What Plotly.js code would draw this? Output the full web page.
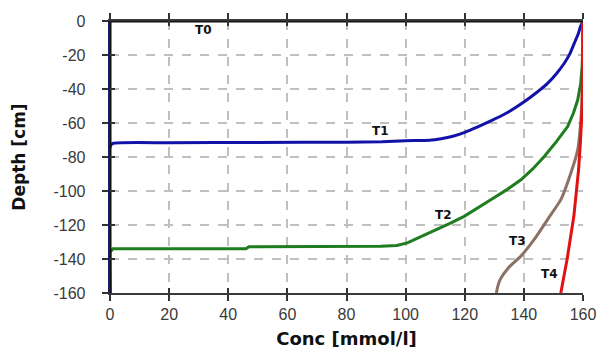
<!DOCTYPE html>
<html>
<head>
<meta charset="utf-8">
<script src="https://cdn.plot.ly/plotly-3.0.1.min.js"></script>
<style>html,body{margin:0;padding:0;background:#fff;}#chart{width:599px;height:356px;}</style>
</head>
<body>
<div id="chart"></div>
<script>
// Data
const t0Conc = [0, 0, 160];
const t0Depth = [-160, 0, 0];

const t1Conc = [0, 0, 1, 20, 50, 80, 92, 100, 108, 112, 116, 120, 124, 128.8, 134, 140.1, 144, 148, 151, 153.6, 155.5, 157, 158.3, 159.1, 160];
const t1Depth = [-160, -74, -72, -71.6, -71.4, -71.3, -71, -70.4, -70.2, -69.3, -67.8, -65.5, -62.6, -58.8, -54.3, -47.5, -42.5, -36.7, -31, -25, -19.5, -13.3, -8, -3.5, 0];

const t2Conc = [0, 0, 1, 46, 47, 70, 91.5, 97, 100.6, 105, 110.7, 115, 119.8, 124, 128.8, 134, 139, 143, 146.9, 151, 154.8, 156.8, 158.2, 159.2, 159.7, 160, 160];
const t2Depth = [-160, -136, -134, -134, -132.8, -132.8, -132.5, -132, -130.5, -127, -122.7, -119, -114.9, -110.5, -105.1, -99.5, -93.4, -87, -79.7, -71, -62.1, -54, -46.5, -37, -27, -13, 0];

const t3Conc = [130.7, 131.2, 132, 134.8, 139, 143.5, 148, 152.5, 155.9, 158.2, 159.2, 159.8, 160];
const t3Depth = [-160, -156, -152, -145.1, -138.3, -128.5, -116.8, -105.1, -89.4, -75.8, -60, -40, 0];

const t4Conc = [152.5, 154.6, 156.9, 158.5, 159.1, 159.7, 160];
const t4Depth = [-160, -140.3, -114.9, -87.5, -71.8, -52, 0];

const labelNames = ['T0', 'T1', 'T2', 'T3', 'T4'];
const labelConc = [31.5, 91.5, 112.9, 137.9, 148.6];
const labelDepth = [-5.5, -64.7, -113.9, -129.5, -149];

const xTicks = [0, 20, 40, 60, 80, 100, 120, 140, 160];
const yTicks = [-160, -140, -120, -100, -80, -60, -40, -20, 0];

const colors = {T0: '#111111', T1: '#1212a8', T2: '#1f7d1f', T3: '#8c7264', T4: '#e01212'};

function tr(x, y, c, smooth, overlay) {
  const t = {x: x, y: y, mode: 'lines', line: {color: c, width: 3}, hoverinfo: 'skip', showlegend: false};
  if (smooth) { t.line.shape = 'spline'; t.line.smoothing = 0.5; }
  if (overlay) { t.xaxis = 'x2'; t.yaxis = 'y2'; }
  return t;
}

const traces = [
  tr(t0Conc, t0Depth, colors.T0, false, true),
  tr(t2Conc, t2Depth, colors.T2),
  tr(t1Conc, t1Depth, colors.T1, true),
  tr(t3Conc, t3Depth, colors.T3, true),
  tr(t4Conc, t4Depth, colors.T4)
];

const tickFont = {family: 'Liberation Sans, Arial, sans-serif', size: 16, color: '#3a3a3a'};
const pad = '\u00a0\u00a0\u00a0';

const layout = {
  width: 599, height: 356,
  margin: {l: 110, r: 16, t: 21, b: 63},
  paper_bgcolor: '#ffffff', plot_bgcolor: '#ffffff',
  showlegend: false,
  xaxis: {
    range: [0, 160], tickmode: 'array', tickvals: xTicks, ticktext: xTicks.map(String),
    ticks: 'outside', ticklen: 6, tickwidth: 1.5, tickcolor: '#333',
    mirror: 'ticks', showline: true, linecolor: '#3a3a3a', linewidth: 2,
    showgrid: true, gridcolor: '#c0c0c0', griddash: 'dash', gridwidth: 1.5,
    zeroline: false, tickfont: tickFont,
    title: {text: 'Conc [mmol/l]', font: {family: 'DejaVu Sans, sans-serif', size: 18, color: '#111', weight: 'bold'}, standoff: 10},
    automargin: false
  },
  yaxis: {
    range: [-160, 0], tickmode: 'array', tickvals: yTicks, ticktext: yTicks.map(v => String(v) + pad),
    ticks: 'outside', ticklen: 6, tickwidth: 1.5, tickcolor: '#333',
    showline: true, linecolor: '#1a1a6a', linewidth: 2,
    showgrid: true, gridcolor: '#c0c0c0', griddash: 'dash', gridwidth: 1.5,
    zeroline: false, tickfont: tickFont,
    title: {text: 'Depth [cm]', font: {family: 'DejaVu Sans, sans-serif', size: 17, color: '#111', weight: 'bold'}, standoff: 23},
    automargin: false
  },
  xaxis2: {
    overlaying: 'x', anchor: 'y2', range: [0, 160], tickmode: 'array', tickvals: xTicks,
    ticks: 'inside', ticklen: 5, tickwidth: 1.5, tickcolor: '#333', mirror: 'ticks',
    showticklabels: false, showgrid: false, showline: false, zeroline: false
  },
  yaxis2: {
    overlaying: 'y', anchor: 'x2', side: 'left', range: [-160, 0], tickmode: 'array', tickvals: yTicks,
    ticks: 'inside', ticklen: 5, tickwidth: 1.5, tickcolor: '#333',
    showticklabels: false, showgrid: false, showline: false, zeroline: false
  },
  annotations: labelNames.map((n, i) => ({
    x: labelConc[i], y: labelDepth[i], xref: 'x', yref: 'y', text: n, showarrow: false,
    font: {family: 'DejaVu Sans, sans-serif', size: 12, color: '#111', weight: 'bold'}
  }))
};

Plotly.newPlot('chart', traces, layout, {displayModeBar: false});
</script>
</body>
</html>
